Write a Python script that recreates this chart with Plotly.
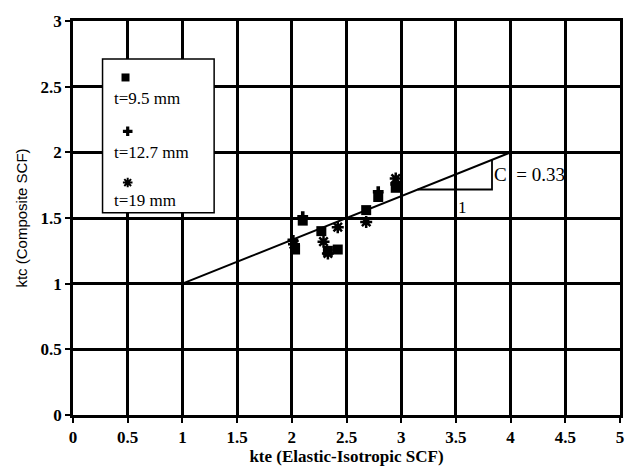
import plotly.graph_objects as go

sq_x = [2.03, 2.10, 2.27, 2.33, 2.42, 2.68, 2.79, 2.95]
sq_y = [1.26, 1.48, 1.40, 1.25, 1.26, 1.56, 1.66, 1.73]
plus_x = [2.01, 2.10, 2.79, 2.95]
plus_y = [1.33, 1.51, 1.70, 1.76]
star_x = [2.02, 2.29, 2.33, 2.42, 2.68, 2.95]
star_y = [1.30, 1.32, 1.23, 1.43, 1.47, 1.80]
fit_x = [1, 4]
fit_y = [1, 2]
tick_vals = [0, 0.5, 1, 1.5, 2, 2.5, 3, 3.5, 4, 4.5, 5]
ytick_vals = [0, 0.5, 1, 1.5, 2, 2.5, 3]

FONT = "Liberation Serif"
fig = go.Figure()
fig.add_trace(go.Scatter(x=fit_x, y=fit_y, mode="lines", line=dict(color="black", width=2), showlegend=False))
fig.add_trace(go.Scatter(x=[3.15, 3.83, 3.83], y=[1.717, 1.717, 1.943], mode="lines",
                         line=dict(color="black", width=1.8), showlegend=False))
fig.add_trace(go.Scatter(x=sq_x, y=sq_y, mode="markers", marker=dict(symbol="square", size=10, color="black"), showlegend=False))
fig.add_trace(go.Scatter(x=plus_x, y=plus_y, mode="markers", marker=dict(symbol="cross", size=9, color="black"), showlegend=False))
fig.add_trace(go.Scatter(x=star_x, y=star_y, mode="markers",
                         marker=dict(symbol="asterisk-open", size=10, color="black", line=dict(color="black", width=2.5)), showlegend=False))

# legend box
fig.add_shape(type="rect", x0=0.27, x1=1.29, y0=1.54, y1=2.71, xref="x", yref="y",
              fillcolor="white", line=dict(color="black", width=1.5), layer="between")
fig.add_trace(go.Scatter(x=[0.48], y=[2.57], mode="markers", marker=dict(symbol="square", size=8, color="black"), showlegend=False))
fig.add_trace(go.Scatter(x=[0.50], y=[2.16], mode="markers", marker=dict(symbol="cross", size=8, color="black"), showlegend=False))
fig.add_trace(go.Scatter(x=[0.50], y=[1.77], mode="markers",
                         marker=dict(symbol="asterisk-open", size=8, color="black", line=dict(color="black", width=2)), showlegend=False))
for txt, yy in [("t=9.5 mm", 2.41), ("t=12.7 mm", 2.0), ("t=19 mm", 1.63)]:
    fig.add_annotation(x=0.36, y=yy, text=txt, showarrow=False, xanchor="left", yanchor="middle",
                       font=dict(family=FONT, size=17, color="black"))

fig.add_annotation(x=3.83, y=1.83, text="C&nbsp;&nbsp;= 0.33", showarrow=False, xanchor="left", yanchor="middle",
                   xshift=0, font=dict(family=FONT, size=19, color="#000000"))
fig.add_annotation(x=3.56, y=1.58, text="1", showarrow=False, xanchor="center", yanchor="middle",
                   font=dict(family=FONT, size=17, color="#000000"))

fig.update_xaxes(range=[0, 5], tickvals=tick_vals, ticktext=[("%g" % v) for v in tick_vals],
                 showgrid=True, gridcolor="black", gridwidth=2.5, zeroline=False,
                 showline=True, linecolor="black", linewidth=2.5, mirror=True,
                 ticks="outside", ticklen=5, tickcolor="black", tickwidth=2,
                 tickfont=dict(family=FONT, size=17, color="black", weight="bold"),
                 title=dict(text="kte (Elastic-Isotropic SCF)", font=dict(family=FONT, size=17, color="black", weight="bold"), standoff=2))
fig.update_yaxes(range=[0, 3], tickvals=ytick_vals, ticktext=[("%g" % v) for v in ytick_vals],
                 showgrid=True, gridcolor="black", gridwidth=2.5, zeroline=False,
                 showline=True, linecolor="black", linewidth=2.5, mirror=True,
                 ticks="outside", ticklen=5, tickcolor="black", tickwidth=2,
                 tickfont=dict(family=FONT, size=17, color="black", weight="bold"),
                 title=dict(text="ktc (Composite SCF)", font=dict(family="Liberation Sans", size=15, color="black"), standoff=10))
fig.update_layout(width=636, height=473, margin=dict(l=73, r=12, t=14, b=55),
                  plot_bgcolor="white", paper_bgcolor="white", showlegend=False)
fig.write_html("out.html")
